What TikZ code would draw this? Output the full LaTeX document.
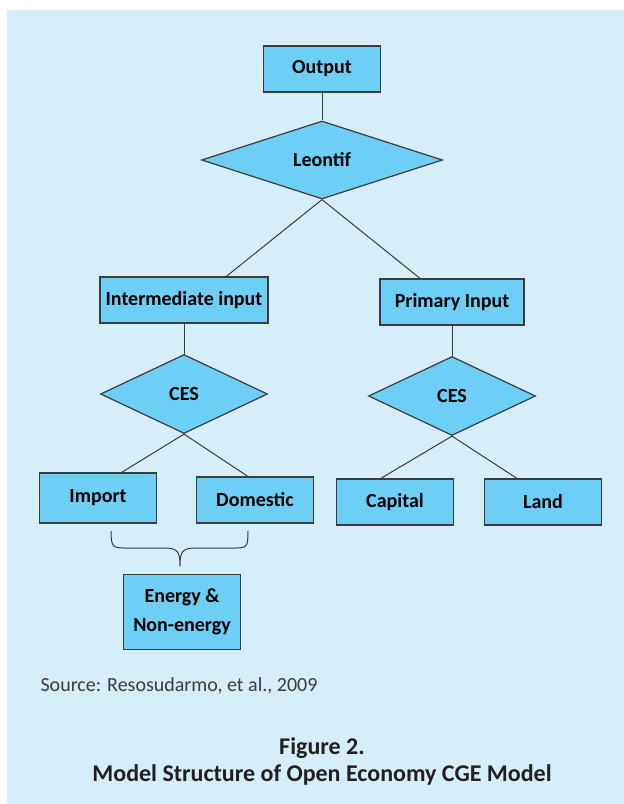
\documentclass[tikz,border=0pt]{standalone}
\usepackage{fontspec}
\setmainfont{Carlito}
\usetikzlibrary{shapes.geometric,calc}
\definecolor{panelblue}{HTML}{D6EDFA}
\definecolor{boxblue}{HTML}{6DCFF6}
\definecolor{edgegrey}{HTML}{3C3C3C}
\definecolor{textgrey}{HTML}{231F20}
\tikzset{
	box/.style={rectangle, fill=boxblue, draw=edgegrey, line width=1.2pt, minimum width=117pt, minimum height=46pt, inner sep=2pt, align=center, font=\bfseries\fontsize{20}{29}\selectfont},
	rhombus/.style={diamond, fill=boxblue, draw=edgegrey, line width=1.2pt, inner sep=0pt, font=\bfseries\fontsize{20}{24}\selectfont},
	link/.style={draw=edgegrey, line width=1pt}
}
\begin{document}
\begin{tikzpicture}[x=1pt, y=-1pt]
		\useasboundingbox (0,0) rectangle (624,804);
		\fill[white] (0,0) rectangle (624,804);
		\fill[panelblue] (7,10) rectangle (624,804);
		\node[box](output) at (322,69){Output};
		\node[rhombus, minimum width=241pt, minimum height=78pt](leontif) at (322,160){Leontif};
		\node[box, minimum width=168pt](interm) at (184,300){Intermediate input};
		\node[box, minimum width=144pt](primary) at (452,302){Primary Input};
		\node[rhombus, minimum width=167pt, minimum height=79pt](cesleft) at (184,394){CES};
		\node[rhombus, minimum width=167pt, minimum height=79pt](cesright) at (452,396){CES};
		\node[box, minimum height=50pt](import) at (98,498){Import};
		\node[box](domestic) at (255,500){Domestic};
		\node[box](capital) at (395,502){Capital};
		\node[box](land) at (543,502){Land};
		\node[box, minimum height=75pt](energy) at (182,612){Energy \&\\Non-energy};
		\draw[link] (output.south) -- (leontif.north);
		\draw[link] (leontif.south) -- ($(interm.north west)!0.75!(interm.north east)$);
		\draw[link] (leontif.south) -- ($(primary.north west)!0.28!(primary.north east)$);
		\draw[link] (interm.south) -- (cesleft.north);
		\draw[link] (primary.south) -- (cesright.north);
		\draw[link] (cesleft.south) -- ($(import.north west)!0.70!(import.north east)$);
		\draw[link] (cesleft.south) -- ($(domestic.north west)!0.44!(domestic.north east)$);
		\draw[link] (cesright.south) -- ($(capital.north west)!0.38!(capital.north east)$);
		\draw[link] (cesright.south) -- ($(land.north west)!0.28!(land.north east)$);
		% brace under Import and Domestic
		\draw[link] (111,531) .. controls (111,548) and (113,548) .. (128,548) -- (164,548) .. controls (178,548) and (180,552) .. (180,566) .. controls (180,552) and (182,548) .. (196,548) -- (232,548) .. controls (247,548) and (248,548) .. (248,531);
		\node[anchor=west, text=edgegrey, font=\fontsize{20}{24}\selectfont](source) at (37,686){Source: Resosudarmo, et al., 2009};
		\node[text=textgrey, font=\bfseries\fontsize{24}{28}\selectfont](fignum) at (322,748){Figure 2.};
		\node[text=textgrey, font=\bfseries\fontsize{24}{28}\selectfont](figtitle) at (322,775){Model Structure of Open Economy CGE Model};
	\end{tikzpicture}
\end{document}
